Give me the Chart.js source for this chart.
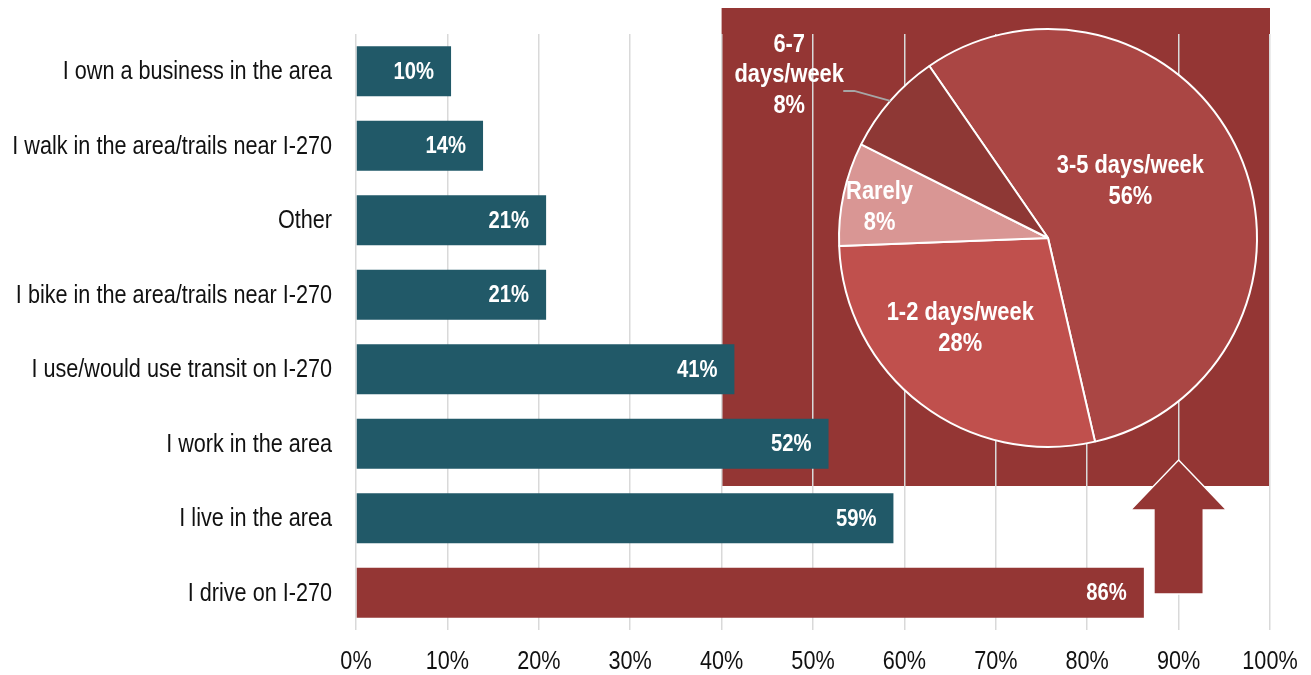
<!DOCTYPE html>
<html>
<head>
<meta charset="utf-8">
<script src="https://cdn.jsdelivr.net/npm/chart.js@4"></script>
<style>
  html, body { margin: 0; padding: 0; background: #fff; }
  #wrap { position: relative; width: 1311px; height: 675px; }
  #bars { position: absolute; left: 0; top: 0; }
  #pie { position: absolute; left: 722px; top: 8px; }
</style>
</head>
<body>
<div id="wrap">
  <canvas id="bars" width="1311" height="675"></canvas>
  <canvas id="pie" width="548" height="478"></canvas>
</div>
<script>
const categories = [
  'I own a business in the area',
  'I walk in the area/trails near I-270',
  'Other',
  'I bike in the area/trails near I-270',
  'I use/would use transit on I-270',
  'I work in the area',
  'I live in the area',
  'I drive on I-270',
];
const shares = [10.4, 13.9, 20.8, 20.8, 41.4, 51.7, 58.8, 86.2];
const xTickValues = [0, 10, 20, 30, 40, 50, 60, 70, 80, 90, 100];

const freqLabels = [
  ['3-5 days/week', '56%'],
  ['1-2 days/week', '28%'],
  ['Rarely', '8%'],
  ['6-7', 'days/week', '8%'],
];
const freqShares = [56, 28, 8, 8];

// no narrow font installed, so text is squeezed horizontally
const FONT = "'Liberation Sans', Arial, sans-serif";
const SQUEEZE = 0.865;
const TEAL = '#215968';
const RED = '#943634';
const pieColors = ['#AA4644', '#C0504D', '#D99694', '#8E3835'];

// angle offset (deg) from the slice middle and distance as a share of the radius
const labelSpots = [
  { turn: -11, dist: 0.48 },
  { turn: 7, dist: 0.60 },
  { turn: -1.6, dist: 0.82 },
  { turn: -8.7, dist: 1.465 },
];

function narrowText(ctx, text, x, y, align, squeeze) {
  ctx.save();
  ctx.translate(x, y);
  ctx.scale(squeeze, 1);
  ctx.textAlign = align;
  ctx.textBaseline = 'middle';
  ctx.fillText(text, 0, 0);
  ctx.restore();
}

const zoomBox = {
  id: 'zoomBox',
  beforeDraw(chart) {
    const xs = chart.scales.x;
    const x0 = xs.getPixelForValue(40);
    const x1 = xs.getPixelForValue(100);
    const ctx = chart.ctx;
    ctx.save();
    ctx.fillStyle = RED;
    ctx.fillRect(x0, 8, x1 - x0, 478);
    ctx.restore();
  },
  afterDraw(chart) {
    // up arrow under the pie
    const xs = chart.scales.x;
    const cx = xs.getPixelForValue(90);
    const head = xs.getPixelForValue(95.25) - cx;
    const shaft = xs.getPixelForValue(92.7) - cx;
    const ctx = chart.ctx;
    ctx.save();
    ctx.beginPath();
    ctx.moveTo(cx, 460);
    ctx.lineTo(cx + head, 510);
    ctx.lineTo(cx + shaft, 510);
    ctx.lineTo(cx + shaft, 594);
    ctx.lineTo(cx - shaft, 594);
    ctx.lineTo(cx - shaft, 510);
    ctx.lineTo(cx - head, 510);
    ctx.closePath();
    ctx.fillStyle = RED;
    ctx.fill();
    ctx.strokeStyle = '#fff';
    ctx.lineWidth = 1.5;
    ctx.stroke();
    ctx.restore();
  },
};

const axisText = {
  id: 'axisText',
  afterDraw(chart) {
    const ctx = chart.ctx;
    const xs = chart.scales.x;
    const ys = chart.scales.y;
    ctx.save();
    ctx.fillStyle = '#111';
    ctx.font = `25px ${FONT}`;
    categories.forEach((c, i) => {
      narrowText(ctx, c, 332, ys.getPixelForValue(i) + 1, 'right', SQUEEZE);
    });
    xTickValues.forEach((v) => {
      narrowText(ctx, v + '%', xs.getPixelForValue(v), 662, 'center', SQUEEZE);
    });
    ctx.restore();
  },
};

const barValues = {
  id: 'barValues',
  afterDatasetsDraw(chart) {
    const ctx = chart.ctx;
    const meta = chart.getDatasetMeta(0);
    ctx.save();
    ctx.font = `bold 23px ${FONT}`;
    ctx.fillStyle = '#fff';
    meta.data.forEach((bar, i) => {
      narrowText(ctx, Math.round(shares[i]) + '%', bar.x - 17, bar.y + 1, 'right', 0.88);
    });
    ctx.restore();
  },
};

new Chart(document.getElementById('bars'), {
  type: 'bar',
  data: {
    labels: categories,
    datasets: [{
      data: shares,
      backgroundColor: shares.map((v, i) => (i === shares.length - 1 ? RED : TEAL)),
      borderWidth: 0,
      barPercentage: 0.67,
      categoryPercentage: 1,
    }],
  },
  options: {
    indexAxis: 'y',
    responsive: false,
    animation: false,
    layout: { padding: { top: 34, right: 41, left: 10, bottom: 0 } },
    plugins: { legend: { display: false }, tooltip: { enabled: false } },
    scales: {
      x: {
        min: 0,
        max: 100,
        afterBuildTicks: (s) => { s.ticks = xTickValues.map((v) => ({ value: v })); },
        afterFit: (s) => { s.height = 45; },
        grid: { color: '#d9d9d9', lineWidth: 1.5, drawTicks: false },
        border: { display: false },
        ticks: { display: false },
      },
      y: {
        afterFit: (s) => { s.width = 346; },
        grid: { display: false },
        border: { display: false },
        ticks: { display: false },
      },
    },
  },
  plugins: [zoomBox, barValues, axisText],
});

const pieLabels = {
  id: 'pieLabels',
  afterDraw(chart) {
    const ctx = chart.ctx;
    const meta = chart.getDatasetMeta(0);
    ctx.save();
    ctx.font = `bold 25px ${FONT}`;
    ctx.fillStyle = '#fff';
    meta.data.forEach((arc, i) => {
      const spot = labelSpots[i];
      const mid = (arc.startAngle + arc.endAngle) / 2;
      const a = mid + (spot.turn * Math.PI) / 180;
      const r = arc.outerRadius * spot.dist;
      const lx = arc.x + Math.cos(a) * r;
      const ly = arc.y + Math.sin(a) * r;
      const lines = freqLabels[i];
      const lh = 30.5;
      lines.forEach((t, j) => {
        narrowText(ctx, t, lx, ly + 1 + (j - (lines.length - 1) / 2) * lh, 'center', 0.875);
      });
      if (spot.dist > 1) {
        const ex = arc.x + Math.cos(mid) * arc.outerRadius;
        const ey = arc.y + Math.sin(mid) * arc.outerRadius;
        ctx.beginPath();
        ctx.moveTo(ex, ey);
        ctx.lineTo(ex - 36, ey - 10);
        ctx.lineTo(ex - 47, ey - 10);
        ctx.strokeStyle = '#a6a6a6';
        ctx.lineWidth = 2;
        ctx.stroke();
      }
    });
    ctx.restore();
  },
};

new Chart(document.getElementById('pie'), {
  type: 'pie',
  data: {
    labels: freqLabels.map((l) => l.join(' ')),
    datasets: [{
      data: freqShares,
      backgroundColor: pieColors,
      borderColor: '#fff',
      borderWidth: 2,
    }],
  },
  options: {
    responsive: false,
    animation: false,
    rotation: -34.6,
    radius: 209,
    layout: { padding: { left: 104, right: 0, top: 0, bottom: 18 } },
    plugins: { legend: { display: false }, tooltip: { enabled: false } },
  },
  plugins: [pieLabels],
});
</script>
</body>
</html>
